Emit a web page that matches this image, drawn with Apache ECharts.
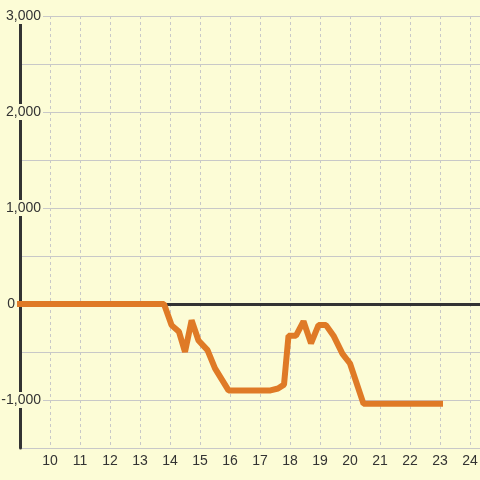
<!DOCTYPE html>
<html lang="en" style="height: 100%">
<head>
<meta charset="utf-8">
<title>Line chart</title>
</head>
<body style="height: 100%; margin: 0">
<div id="container" style="width: 480px; height: 480px"></div>
<script type="text/javascript" src="https://cdn.jsdelivr.net/npm/echarts/dist/echarts.min.js"></script>
<script type="text/javascript">
// values
var xValues = [9, 13.8, 14.05, 14.3, 14.5, 14.72, 14.95, 15.25, 15.5, 15.95, 17.35, 17.6, 17.8, 17.95,
    18.2, 18.45, 18.7, 18.95, 19.2, 19.45, 19.75, 20, 20.45, 23];
var yValues = [0, 0, -220, -290, -500, -170, -380, -480, -670, -900, -900, -880, -840, -330,
    -330, -180, -410, -220, -220, -330, -520, -620, -1040, -1040];

var dom = document.getElementById('container');
var myChart = echarts.init(dom, null, { renderer: 'canvas' });

var seriesData = xValues.map(function (x, i) {
    return [x, yValues[i]];
});

var bg = '#fcfcd6';
var font = 'Liberation Sans';

var option = {
    backgroundColor: bg,
    animation: false,
    grid: { left: 20, right: 0, top: 16, bottom: 32, containLabel: false, outerBoundsMode: 'none' },
    xAxis: {
        type: 'value',
        min: 9,
        max: 24.333,
        interval: 1,
        axisLine: { show: false },
        axisTick: { show: false },
        axisLabel: {
            margin: 6,
            color: '#333',
            fontSize: 14,
            fontFamily: font,
            showMinLabel: false,
            formatter: function (v) {
                return Number.isInteger(v) ? String(v) : '';
            }
        },
        splitLine: { show: true, lineStyle: { color: '#c8c8c8', type: [3, 3], width: 1 } }
    },
    yAxis: {
        type: 'value',
        min: -1500,
        max: 3000,
        interval: 500,
        axisLine: { show: true, lineStyle: { color: '#333', width: 3 } },
        axisTick: { show: false },
        splitLine: { show: true, lineStyle: { color: '#c8c8c8', width: 1 } },
        axisLabel: {
            margin: -23,
            color: '#333',
            fontSize: 14,
            fontFamily: font,
            formatter: function (v) {
                if (v % 1000 !== 0) return '';
                if (v === 0) return '{z|0}';
                return '{b|' + v.toLocaleString('en-US') + '}';
            },
            rich: {
                b: { fontSize: 14, fontFamily: font, color: '#333', backgroundColor: bg, padding: [1, 2, 1, 2] },
                z: { fontSize: 14, fontFamily: font, color: '#333', padding: [0, 28, 0, 0] }
            }
        }
    },
    series: [{
        type: 'line',
        data: seriesData,
        symbol: 'none',
        z: 5,
        lineStyle: { color: '#df7a26', width: 6, cap: 'square' },
        markLine: {
            z: 1,
            silent: true,
            symbol: 'none',
            label: { show: false },
            lineStyle: { color: '#333', width: 3, type: 'solid' },
            emphasis: { disabled: true },
            data: [{ yAxis: 0 }]
        }
    }]
};

myChart.setOption(option);
window.addEventListener('resize', myChart.resize);
</script>
</body>
</html>
